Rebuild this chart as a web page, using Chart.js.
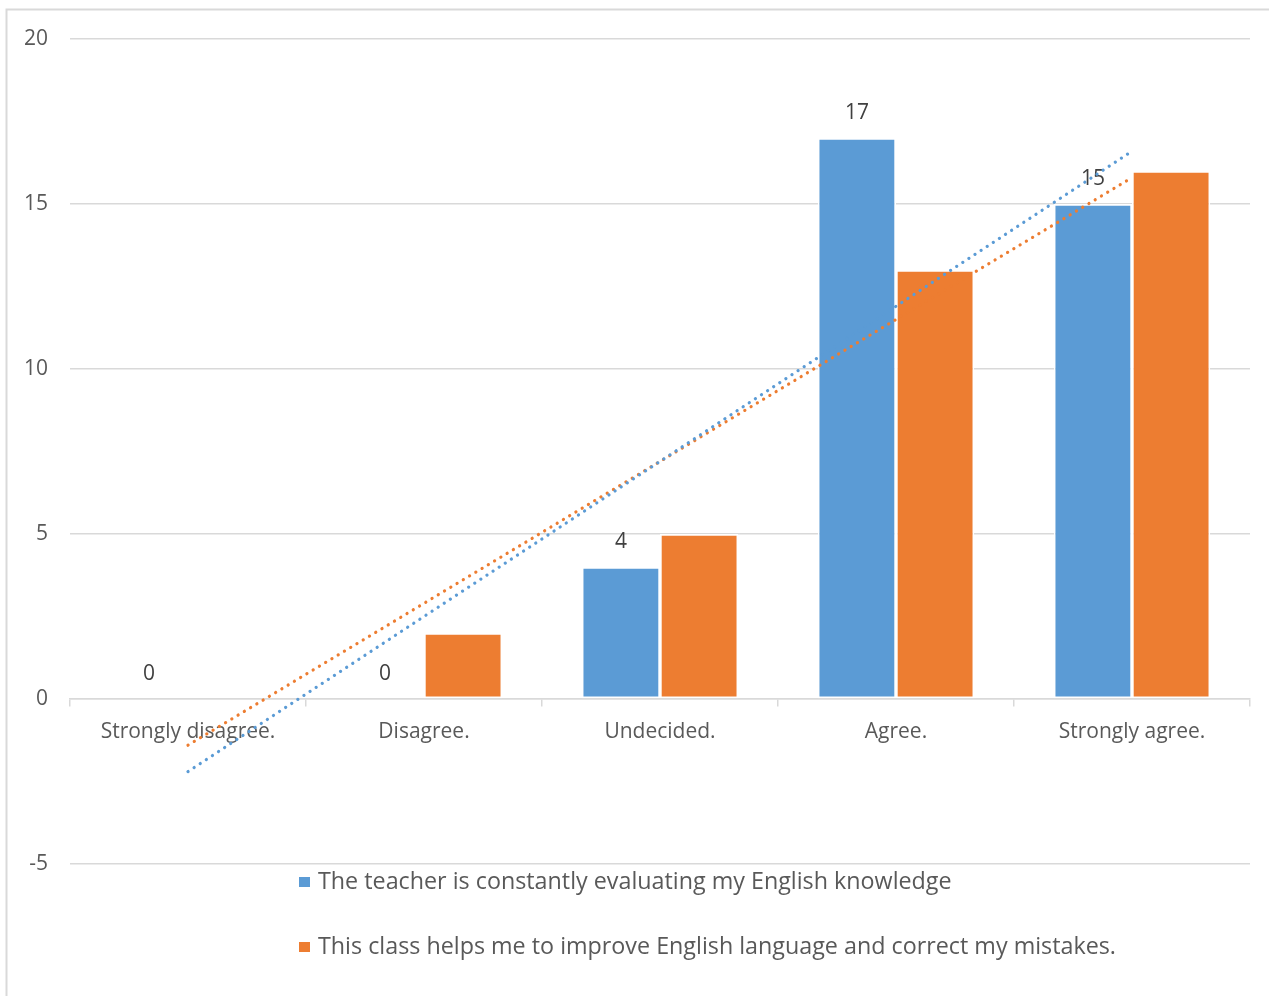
<!DOCTYPE html>
<html>
<head>
<meta charset="utf-8">
<script src="https://cdn.jsdelivr.net/npm/chart.js@4.4.1/dist/chart.umd.min.js"></script>
<style>
  html, body { margin: 0; padding: 0; background: #ffffff; }
  #wrap { position: relative; width: 1269px; height: 996px; }
  canvas { display: block; }
</style>
</head>
<body>
<div id="wrap"><canvas id="chart" width="1269" height="996"></canvas></div>
<script>
// Survey answers per response category
const categories = ['Strongly disagree.', 'Disagree.', 'Undecided.', 'Agree.', 'Strongly agree.'];
const teacherEvaluating = [0, 0, 4, 17, 15];
const classHelps = [0, 2, 5, 13, 16];
const seriesNames = [
  'The teacher is constantly evaluating my English knowledge',
  'This class helps me to improve English language and correct my mistakes.'
];
const yTicks = [-5, 0, 5, 10, 15, 20];

const BLUE = '#5B9BD5';
const ORANGE = '#ED7D31';
const FONT = '"Open Sans", "Noto Sans", sans-serif';

// Least-squares linear trend over category positions 1..n
function linearTrend(values) {
  const n = values.length;
  const xs = values.map((_, i) => i + 1);
  const mx = xs.reduce((a, b) => a + b, 0) / n;
  const my = values.reduce((a, b) => a + b, 0) / n;
  let sxy = 0, sxx = 0;
  xs.forEach((x, i) => { sxy += (x - mx) * (values[i] - my); sxx += (x - mx) * (x - mx); });
  const slope = sxy / sxx;
  const icpt = my - slope * mx;
  return xs.map(x => icpt + slope * x);
}

// Value labels above the first series' bars
const valueLabels = {
  id: 'valueLabels',
  afterDatasetDraw(chart, args) {
    if (args.index !== 0) return;
    const ctx = chart.ctx;
    const meta = chart.getDatasetMeta(0);
    const data = chart.data.datasets[0].data;
    ctx.save();
    ctx.font = '21px ' + FONT;
    ctx.fillStyle = '#404040';
    ctx.textAlign = 'center';
    ctx.textBaseline = 'middle';
    meta.data.forEach((bar, i) => {
      ctx.fillText(String(data[i]), bar.x, bar.y - 25);
    });
    ctx.restore();
  }
};

// Stacked, left-aligned legend under the plot
const stackedLegend = {
  id: 'stackedLegend',
  afterDraw(chart) {
    const ctx = chart.ctx;
    const rows = [882, 947];
    ctx.save();
    ctx.font = '23.3px ' + FONT;
    ctx.textAlign = 'left';
    ctx.textBaseline = 'middle';
    chart.data.datasets.filter(d => d.type === 'bar').forEach((ds, i) => {
      ctx.fillStyle = ds.backgroundColor;
      ctx.fillRect(299, rows[i] - 5, 11, 10);
      ctx.fillStyle = '#595959';
      ctx.fillText(ds.label, 318, rows[i]);
    });
    ctx.restore();
  }
};

// Light frame around the figure
const frame = {
  id: 'frame',
  beforeDraw(chart) {
    const ctx = chart.ctx;
    ctx.save();
    ctx.fillStyle = '#ffffff';
    ctx.fillRect(0, 0, chart.width, chart.height);
    ctx.strokeStyle = '#d9d9d9';
    ctx.lineWidth = 2;
    ctx.strokeRect(6.5, 9.5, chart.width + 20, chart.height + 20);
    ctx.restore();
  }
};

const trendDataset = (label, values, color) => ({
  type: 'line',
  label,
  data: linearTrend(values),
  borderColor: color,
  borderWidth: 3.2,
  borderDash: [0.1, 7.2],
  borderCapStyle: 'round',
  pointRadius: 0,
  fill: false,
  tension: 0,
  order: 0
});

new Chart(document.getElementById('chart'), {
  type: 'bar',
  data: {
    labels: categories,
    datasets: [
      {
        type: 'bar',
        label: seriesNames[0],
        data: teacherEvaluating,
        backgroundColor: BLUE,
        borderColor: '#ffffff',
        borderWidth: 1.7,
        borderSkipped: false,
        categoryPercentage: 0.663,
        barPercentage: 1,
        order: 1
      },
      {
        type: 'bar',
        label: seriesNames[1],
        data: classHelps,
        backgroundColor: ORANGE,
        borderColor: '#ffffff',
        borderWidth: 1.7,
        borderSkipped: false,
        categoryPercentage: 0.663,
        barPercentage: 1,
        order: 1
      },
      trendDataset('Linear (' + seriesNames[0] + ')', teacherEvaluating, BLUE),
      trendDataset('Linear (' + seriesNames[1] + ')', classHelps, ORANGE)
    ]
  },
  options: {
    responsive: false,
    animation: false,
    devicePixelRatio: 1,
    layout: { padding: { top: 39, right: 19, bottom: 132, left: 0 } },
    plugins: {
      legend: { display: false },
      tooltip: { enabled: false }
    },
    scales: {
      x: {
        type: 'category',
        position: { y: 0 },
        offset: true,
        grid: {
          offset: true,
          drawOnChartArea: false,
          color: '#d9d9d9',
          lineWidth: 1.5,
          tickLength: 7
        },
        border: { display: true, color: '#d9d9d9', width: 1.5 },
        ticks: {
          font: { family: FONT, size: 21 },
          color: '#595959',
          padding: 13,
          maxRotation: 0,
          autoSkip: false
        }
      },
      y: {
        min: yTicks[0],
        max: yTicks[yTicks.length - 1],
        afterFit(scale) { scale.width = 70; },
        afterBuildTicks(scale) { scale.ticks = yTicks.map(v => ({ value: v })); },
        grid: { color: '#d9d9d9', lineWidth: 1.5, drawTicks: false },
        border: { display: false },
        ticks: {
          font: { family: FONT, size: 21 },
          color: '#595959',
          padding: 22
        }
      }
    }
  },
  plugins: [frame, valueLabels, stackedLegend]
});
</script>
</body>
</html>
